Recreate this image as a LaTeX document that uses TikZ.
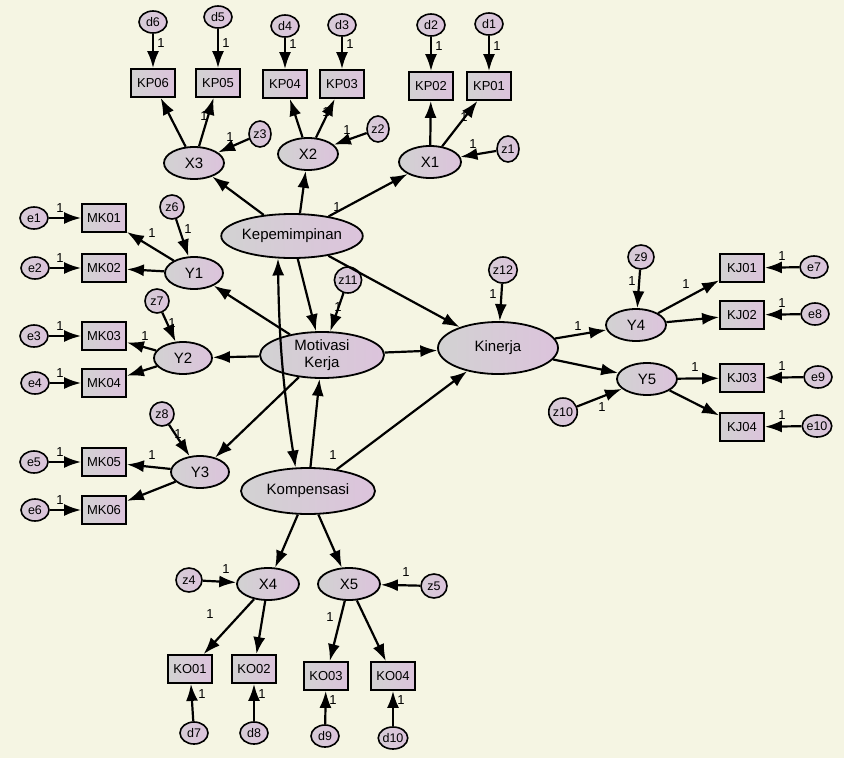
\documentclass[tikz,border=0pt]{standalone}
\usepackage{fontspec}
\setmainfont{Liberation Sans}
\usetikzlibrary{arrows.meta,shapes.geometric}
\definecolor{bg}{HTML}{F5F5E3}
\definecolor{lg}{HTML}{D2D2D2}
\definecolor{lp}{HTML}{DCC3DC}
\tikzset{
 lat/.style={ellipse,draw=black,line width=1.8pt,left color=lg,right color=lp,inner sep=0pt,font=\fontsize{15}{16}\selectfont,align=center},
 err/.style={ellipse,draw=black,line width=1.6pt,left color=lg!60!lp,right color=lp,inner sep=0pt,minimum width=28pt,minimum height=22pt,font=\fontsize{12.5}{13}\selectfont},
 obs/.style={rectangle,draw=black,line width=1.8pt,left color=lg,right color=lp,inner sep=0pt,minimum width=44pt,minimum height=28pt,font=\fontsize{13}{14}\selectfont},
 arr/.style={-{Latex[length=17pt,width=12pt]},line width=2.2pt},
 darr/.style={{Latex[length=17pt,width=12pt]}-{Latex[length=17pt,width=12pt]},line width=2.2pt},
 one/.style={font=\fontsize{13}{14}\selectfont,inner sep=0pt}
}
\begin{document}
\begin{tikzpicture}[x=1pt,y=-1pt]
\fill[bg] (0,0) rectangle (844,758);
\useasboundingbox (0,0) rectangle (844,758);
% top observed
\foreach \n/\x/\y/\d/\dy in {KP06/153/83/d6/22,KP05/218/83/d5/17,KP04/285/84/d4/26,KP03/342/84/d3/25,KP02/431/86/d2/25,KP01/489/86/d1/24}{
 \node[obs] (\n) at (\x,\y) {\n};
 \node[err] (\d) at (\x,\dy) {\d};
 \draw[arr] (\d) -- (\n);
 \node[one] at (\x+8,\y-40) {1};
}
\node[lat,minimum width=60pt,minimum height=32pt] (X3) at (194,163) {X3};
\node[lat,minimum width=60pt,minimum height=32pt] (X2) at (308,154) {X2};
\node[lat,minimum width=62pt,minimum height=32pt] (X1) at (430,162) {X1};
\node[err,minimum width=22pt,minimum height=26pt] (z3) at (260,134) {z3};
\node[err,minimum width=22pt,minimum height=26pt] (z2) at (378,129) {z2};
\node[err,minimum width=22pt,minimum height=26pt] (z1) at (508,149) {z1};
\draw[arr] (X3) -- (KP06); \draw[arr] (X3) -- (KP05);
\draw[arr] (X2) -- (KP04); \draw[arr] (X2) -- (KP03);
\draw[arr] (X1) -- (KP02); \draw[arr] (X1) -- (KP01);
\draw[arr] (z3) -- (X3); \draw[arr] (z2) -- (X2); \draw[arr] (z1) -- (X1);
\node[one] at (204,116) {1}; \node[one] at (230,137) {1};
\node[one] at (326,112) {1}; \node[one] at (347,130) {1};
\node[one] at (464,117) {1}; \node[one] at (473,144) {1};
% central
\node[lat,minimum width=132pt,minimum height=44pt] (Kep) at (292,236) {Kepemimpinan};
\node[lat,minimum width=124pt,minimum height=46pt] (Mot) at (322,355) {Motivasi\\[1pt]Kerja};
\node[lat,minimum width=134pt,minimum height=46pt] (Kom) at (308,491) {Kompensasi};
\node[lat,minimum width=120pt,minimum height=52pt] (Kin) at (498,348) {Kinerja};
\node[err,minimum width=24pt,minimum height=26pt] (z11) at (348,280) {z11};
\node[err,minimum width=24pt,minimum height=26pt] (z12) at (503,270) {z12};
\draw[arr] (Kep) -- (X3); \draw[arr] (Kep.north) ++(8,0) -- (X2);
\draw[arr] (Kep) -- (X1);
\node[one] at (337,207) {1};
\draw[arr] (Kep) -- (Mot); \draw[arr] (Kep) -- (Kin);
\draw[arr] (Mot) -- (Kin); \draw[arr] (Kom) -- (Kin); \draw[arr] (Kom) -- (Mot);
\draw[arr] (z11) -- (Mot); \node[one] at (338,307) {1};
\draw[arr] (z12) -- (Kin); \node[one] at (493,294) {1};
\draw[darr] (Kep.238) to[bend right=4] (Kom.118);
\node[one] at (333,455) {1};
% left Y
\node[lat,minimum width=58pt,minimum height=32pt] (Y1) at (194,273) {Y1};
\node[lat,minimum width=58pt,minimum height=32pt] (Y2) at (183,358) {Y2};
\node[lat,minimum width=58pt,minimum height=32pt] (Y3) at (200,472) {Y3};
\draw[arr] (Mot) -- (Y1); \draw[arr] (Mot) -- (Y2); \draw[arr] (Mot) -- (Y3);
\foreach \z/\y/\zx/\zy/\ya/\yb/\xa/\xb/\ea/\eb/\ex/\eyy in {z6/Y1/172/207/MK01/MK02/218/268/e1/e2/34/219, z7/Y2/157/301/MK03/MK04/336/383/e3/e4/34/335, z8/Y3/162/414/MK05/MK06/462/510/e5/e6/34/462}{
 \node[err,minimum width=24pt,minimum height=24pt] (\z) at (\zx,\zy) {\z};
 \draw[arr] (\z) -- (\y);
 \node[obs] (\ya) at (104,\xa) {\ya};
 \node[obs] (\yb) at (104,\xb) {\yb};
 \node[err] (\ea) at (34,\xa) {\ea};
 \node[err] (\eb) at (35,\xb) {\eb};
 \draw[arr] (\ea) -- (\ya); \draw[arr] (\eb) -- (\yb);
 \draw[arr] (\y) -- (\ya); \draw[arr] (\y) -- (\yb);
 \node[one] at (60,\xa-10) {1}; \node[one] at (60,\xb-10) {1};
}
\node[one] at (152,233) {1}; \node[one] at (188,229) {1};
\node[one] at (145,336) {1}; \node[one] at (172,323) {1};
\node[one] at (152,455) {1}; \node[one] at (178,434) {1};
% bottom X
\node[lat,minimum width=62pt,minimum height=32pt] (X4) at (268,584) {X4};
\node[lat,minimum width=62pt,minimum height=32pt] (X5) at (349,584) {X5};
\node[err,minimum width=26pt,minimum height=24pt] (z4) at (189,580) {z4};
\node[err,minimum width=26pt,minimum height=24pt] (z5) at (434,586) {z5};
\draw[arr] (Kom) -- (X4); \draw[arr] (Kom) -- (X5);
\draw[arr] (z4) -- (X4); \draw[arr] (z5) -- (X5);
\node[one] at (226,569) {1}; \node[one] at (406,572) {1};
\node[obs] (KO01) at (190,669) {KO01};
\node[obs] (KO02) at (254,669) {KO02};
\node[obs] (KO03) at (326,676) {KO03};
\node[obs] (KO04) at (393,676) {KO04};
\node[err] (d7) at (194,733) {d7};
\node[err] (d8) at (254,733) {d8};
\node[err] (d9) at (325,736) {d9};
\node[err] (d10) at (393,738) {d10};
\draw[arr] (X4) -- (KO01); \draw[arr] (X4) -- (KO02);
\draw[arr] (X5) -- (KO03); \draw[arr] (X5) -- (KO04);
\draw[arr] (d7) -- (KO01); \draw[arr] (d8) -- (KO02);
\draw[arr] (d9) -- (KO03); \draw[arr] (d10) -- (KO04);
\node[one] at (210,614) {1}; \node[one] at (330,617) {1};
\node[one] at (202,694) {1}; \node[one] at (262,694) {1};
\node[one] at (333,700) {1}; \node[one] at (401,700) {1};
% right
\node[lat,minimum width=60pt,minimum height=32pt] (Y4) at (636,325) {Y4};
\node[lat,minimum width=60pt,minimum height=32pt] (Y5) at (647,379) {Y5};
\node[err,minimum width=26pt,minimum height=24pt] (z9) at (641,257) {z9};
\node[err,minimum width=26pt,minimum height=28pt] (z10) at (563,412) {z10};
\draw[arr] (Kin) -- (Y4); \draw[arr] (Kin) -- (Y5);
\draw[arr] (z9) -- (Y4); \draw[arr] (z10) -- (Y5);
\node[one] at (578,326) {1}; \node[one] at (632,281) {1}; \node[one] at (602,407) {1};
\foreach \n/\y/\e/\ex in {KJ01/268/e7/814,KJ02/315/e8/815,KJ03/378/e9/818,KJ04/427/e10/817}{
 \node[obs] (\n) at (742,\y) {\n};
 \node[err] (\e) at (\ex,\y-1) {\e};
 \draw[arr] (\e) -- (\n);
 \node[one] at (782,\y-12) {1};
}
\draw[arr] (Y4) -- (KJ01); \draw[arr] (Y4) -- (KJ02);
\draw[arr] (Y5) -- (KJ03); \draw[arr] (Y5) -- (KJ04);
\node[one] at (686,284) {1}; \node[one] at (695,367) {1};
\end{tikzpicture}
\end{document}
